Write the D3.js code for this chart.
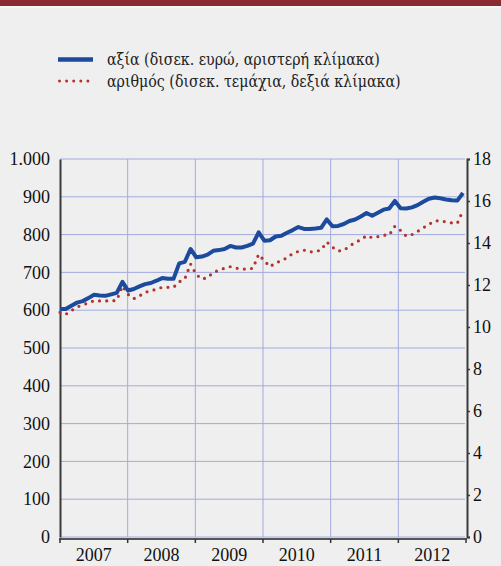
<!DOCTYPE html>
<html>
<head>
<meta charset="utf-8">
<script src="https://cdn.jsdelivr.net/npm/d3@7"></script>
<style>
  body { margin: 0; background: #efefef; }
  svg { display: block; }
</style>
</head>
<body>
<div id="chart"></div>
<script>
// ---- data (monthly, Jan 2007 .. Dec 2012) ----
const years = ['2007', '2008', '2009', '2010', '2011', '2012'];

// αξία, δισεκ. ευρώ (left scale)
const valueSeries = [
  603, 603, 612, 620, 624, 632, 641, 639, 638, 642, 646, 675,
  652, 656, 663, 669, 672, 678, 685, 683, 683, 724, 728, 762,
  740, 742, 747, 757, 759, 762, 770, 766, 766, 770, 776, 806,
  784, 785, 795, 797, 805, 812, 820, 815, 815, 816, 818, 840,
  822, 823, 828, 836, 840, 848, 857, 850, 858, 866, 869, 889,
  870, 869, 872, 878, 887, 895, 898, 896, 893, 891, 890, 910
];

// αριθμός, δισεκ. τεμάχια (right scale)
const countSeries = [
  10.7, 10.6, 10.78, 10.95, 11.05, 11.15, 11.25, 11.24, 11.24, 11.24, 11.27, 11.95,
  11.55, 11.35, 11.48, 11.65, 11.72, 11.8, 11.89, 11.89, 11.89, 12.15, 12.3, 13.0,
  12.5, 12.28, 12.35, 12.6, 12.7, 12.8, 12.87, 12.8, 12.77, 12.75, 12.8, 13.46,
  13.15, 12.87, 13.06, 13.15, 13.3, 13.5, 13.6, 13.66, 13.57, 13.6, 13.66, 14.05,
  13.8, 13.62, 13.65, 13.85, 14.03, 14.15, 14.35, 14.25, 14.3, 14.37, 14.38, 14.8,
  14.6, 14.33, 14.4, 14.55, 14.72, 14.89, 15.05, 15.06, 15.0, 14.96, 14.94, 15.55
];

const leftTicks = [0, 100, 200, 300, 400, 500, 600, 700, 800, 900, 1000];
const rightTicks = [0, 2, 4, 6, 8, 10, 12, 14, 16, 18];

const legendLabels = [
  'αξία (δισεκ. ευρώ, αριστερή κλίμακα)',
  'αριθμός (δισεκ. τεμάχια, δεξιά κλίμακα)'
];

// ---- layout ----
const W = 501, H = 566;
const plotL = 60, plotR = 466, plotT = 159, plotB = 537;
const blue = '#1c4a9c', red = '#b4342b', grid = '#a3aadf', axisCol = '#3a3a3a';
const serif = '"Liberation Serif", "Times New Roman", serif';

const svg = d3.select('#chart').append('svg')
    .attr('width', W)
    .attr('height', H)
    .attr('font-family', serif);

svg.append('rect').attr('width', W).attr('height', H).attr('fill', '#efefef');
svg.append('rect').attr('width', W).attr('height', 6).attr('fill', '#8a2b33');
svg.append('rect').attr('y', 6).attr('width', W).attr('height', 2).attr('fill', '#f7f7f7');

// scales
const xYear = d3.scaleBand().domain(years).range([plotL, plotR]);
const xMonth = d3.scaleLinear().domain([0, valueSeries.length - 1]).range([plotL, 463]);
const yL = d3.scaleLinear().domain([0, 1000]).range([plotB, plotT]);
const yR = d3.scaleLinear().domain([0, 18]).range([plotB, plotT]);

// grid
svg.append('g')
    .selectAll('line')
    .data(leftTicks)
    .enter().append('line')
    .attr('x1', plotL).attr('x2', plotR - 1)
    .attr('y1', d => yL(d)).attr('y2', d => yL(d))
    .attr('stroke', grid).attr('stroke-width', 1);

svg.append('g')
    .selectAll('line')
    .data(years.slice(1))
    .enter().append('line')
    .attr('x1', d => xYear(d)).attr('x2', d => xYear(d))
    .attr('y1', plotT).attr('y2', plotB)
    .attr('stroke', grid).attr('stroke-width', 1);

// left axis
const leftAxis = svg.append('g')
    .attr('transform', `translate(${plotL},0)`)
    .call(d3.axisLeft(yL).tickValues(leftTicks).tickSize(0).tickPadding(10)
        .tickFormat(d => d3.format(',')(d).replace(',', '.')))
    .attr('font-family', serif)
    .attr('font-size', 18);
leftAxis.select('.domain').attr('stroke', axisCol).attr('stroke-width', 2);
leftAxis.selectAll('text').attr('fill', '#111');

// right axis
const rightAxis = svg.append('g')
    .attr('transform', `translate(${plotR + 1},0)`)
    .call(d3.axisRight(yR).tickValues(rightTicks).tickSize(3).tickPadding(3))
    .attr('font-family', serif)
    .attr('font-size', 18);
rightAxis.select('.domain').attr('stroke', axisCol).attr('stroke-width', 2);
rightAxis.selectAll('.tick line').attr('stroke', axisCol).attr('stroke-width', 1.5);
rightAxis.selectAll('text').attr('fill', '#111');

// bottom axis
const xAxis = svg.append('g')
    .attr('transform', `translate(0,${plotB + 2})`);
xAxis.append('line')
    .attr('x1', plotL - 1).attr('x2', plotR + 1)
    .attr('stroke', '#555').attr('stroke-width', 2);
xAxis.selectAll('.tk')
    .data(years.concat(['end']))
    .enter().append('line')
    .attr('class', 'tk')
    .attr('x1', (d, i) => i < years.length ? xYear(d) : plotR)
    .attr('x2', (d, i) => i < years.length ? xYear(d) : plotR)
    .attr('y1', 0).attr('y2', 4)
    .attr('stroke', '#333').attr('stroke-width', 1.5);
xAxis.selectAll('text')
    .data(years)
    .enter().append('text')
    .attr('x', d => xYear(d) + xYear.bandwidth() / 2)
    .attr('y', 22)
    .attr('text-anchor', 'middle')
    .attr('font-size', 18)
    .attr('fill', '#111')
    .text(d => d);

// lines
const valueLine = d3.line()
    .x((d, i) => xMonth(i))
    .y(d => yL(d));
const countLine = d3.line()
    .x((d, i) => xMonth(i))
    .y(d => yR(d));

svg.append('path')
    .datum(countSeries)
    .attr('d', countLine)
    .attr('fill', 'none')
    .attr('stroke', red)
    .attr('stroke-width', 3.2)
    .attr('stroke-linecap', 'round')
    .attr('stroke-dasharray', '0 7.2');

svg.append('path')
    .datum(valueSeries)
    .attr('d', valueLine)
    .attr('fill', 'none')
    .attr('stroke', blue)
    .attr('stroke-width', 4)
    .attr('stroke-linejoin', 'round');

// legend
const legend = svg.append('g');
legend.append('line')
    .attr('x1', 58).attr('x2', 93).attr('y1', 59.5).attr('y2', 59.5)
    .attr('stroke', blue).attr('stroke-width', 4.5);
legend.append('line')
    .attr('x1', 59.5).attr('x2', 92).attr('y1', 81).attr('y2', 81)
    .attr('stroke', red).attr('stroke-width', 3)
    .attr('stroke-linecap', 'round')
    .attr('stroke-dasharray', '0 7.1');
legend.selectAll('text')
    .data(legendLabels)
    .enter().append('text')
    .attr('x', 107)
    .attr('y', (d, i) => 59.5 + i * 21.5)
    .attr('dy', '0.35em')
    .attr('font-family', '"DejaVu Serif Condensed", "DejaVu Serif", serif')
    .attr('font-size', 15.8)
    .attr('fill', '#222')
    .text(d => d);
</script>
</body>
</html>
